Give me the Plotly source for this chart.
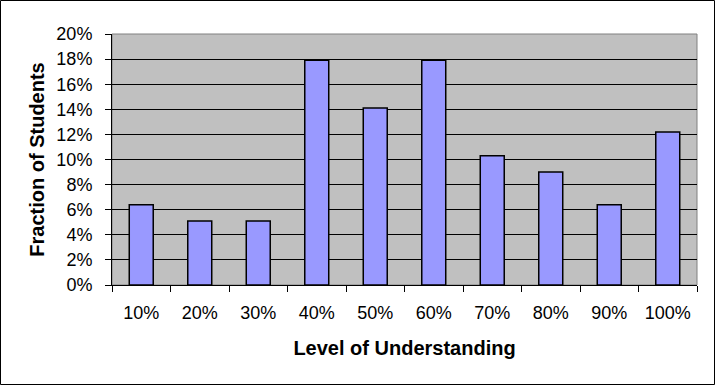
import plotly.graph_objects as go

categories = ["10%", "20%", "30%", "40%", "50%", "60%", "70%", "80%", "90%", "100%"]
fractions = [0.064, 0.051, 0.051, 0.179, 0.141, 0.179, 0.103, 0.090, 0.064, 0.122]
y_ticks = [i / 100 for i in range(0, 21, 2)]
y_tick_labels = [f"{i}%" for i in range(0, 21, 2)]

W, H = 715, 385
ML, MR, MT, MB = 112, 18, 34, 100
FONT = "Liberation Sans, Arial, sans-serif"

fig = go.Figure(
    go.Bar(
        x=categories,
        y=fractions,
        marker=dict(color="#9999FF", line=dict(color="black", width=1.5)),
        hoverinfo="x+y",
    )
)

pw = W - ML - MR
ph = H - MT - MB
fig.update_layout(
    width=W,
    height=H,
    margin=dict(l=ML, r=MR, t=MT, b=MB, pad=0),
    paper_bgcolor="white",
    plot_bgcolor="#C0C0C0",
    bargap=0.59,
    showlegend=False,
    font=dict(family=FONT, size=18, color="black"),
    xaxis=dict(
        type="category",
        tickson="boundaries",
        ticks="outside",
        ticklen=6,
        tickcolor="black",
        tickwidth=1,
        showline=True,
        linecolor="black",
        linewidth=1,
        showgrid=False,
        tickfont=dict(size=18),
        ticklabelstandoff=11,
        title=dict(text="<b>Level of Understanding</b>", font=dict(size=20), standoff=19),
        fixedrange=True,
    ),
    yaxis=dict(
        range=[0, 0.20],
        tickvals=y_ticks,
        ticktext=y_tick_labels,
        ticks="outside",
        ticklen=6,
        tickcolor="black",
        showline=True,
        linecolor="black",
        linewidth=1,
        showgrid=True,
        gridcolor="black",
        gridwidth=1,
        zeroline=False,
        tickfont=dict(size=18),
        ticklabelstandoff=9,
        title=dict(text="<b>Fraction of Students</b>", font=dict(size=20), standoff=6),
        fixedrange=True,
    ),
    shapes=[
        dict(type="rect", xref="paper", yref="paper", x0=0, x1=1, y0=0, y1=1,
             line=dict(color="#808080", width=1), layer="below"),
        dict(type="rect", xref="paper", yref="paper",
             x0=-(ML - 0.5) / pw, x1=(pw + MR - 0.5) / pw,
             y0=-(MB - 0.5) / ph, y1=(ph + MT - 0.5) / ph,
             line=dict(color="black", width=1)),
    ],
)

fig.write_html(
    "out.html",
    config={"displayModeBar": False},
    post_script="document.body.style.margin='0';",
)
